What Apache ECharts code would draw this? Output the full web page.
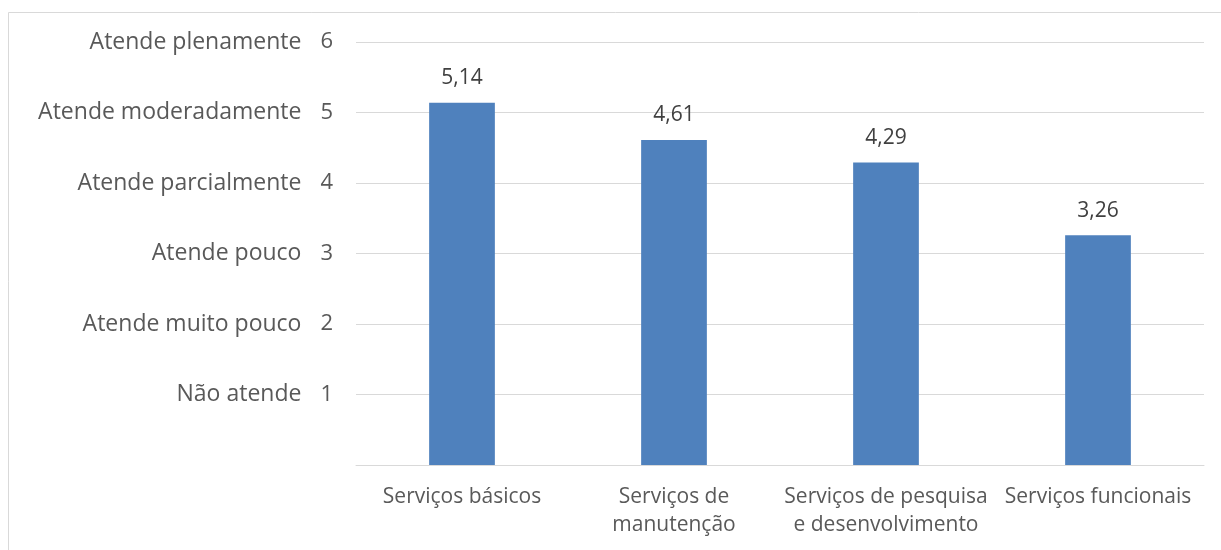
<!DOCTYPE html>
<html>
<head>
<meta charset="utf-8">
<script src="https://cdn.jsdelivr.net/npm/echarts@6/dist/echarts.min.js"></script>
<style>
  html, body { margin: 0; padding: 0; background: #fff; }
  #chart { width: 1221px; height: 550px; }
</style>
</head>
<body>
<div id="chart"></div>
<script>
// Service categories and their mean ratings (scale 1–6)
const categories = [
  'Serviços básicos',
  'Serviços de\nmanutenção',
  'Serviços de pesquisa\ne desenvolvimento',
  'Serviços funcionais'
];
const ratings = [5.14, 4.61, 4.29, 3.26];

// Rating scale names shown beside each tick value
const levelNames = [
  '',
  'Não atende',
  'Atende muito pouco',
  'Atende pouco',
  'Atende parcialmente',
  'Atende moderadamente',
  'Atende plenamente'
];

const FONT = '"Open Sans", sans-serif';
const chart = echarts.init(document.getElementById('chart'));

chart.setOption({
  animation: false,
  backgroundColor: '#ffffff',
  graphic: [{
    type: 'rect',
    silent: true,
    shape: { x: 8.5, y: 12.5, width: 1400, height: 700 },
    style: { fill: 'none', stroke: '#d9d9d9', lineWidth: 1 }
  }],
  grid: { left: 356, right: 17, top: 42, bottom: 85, containLabel: false },
  xAxis: {
    type: 'category',
    data: categories,
    axisLine: { lineStyle: { color: '#d9d9d9', width: 1 } },
    axisTick: { show: false },
    axisLabel: {
      interval: 0,
      margin: 18,
      color: '#595959',
      fontFamily: FONT,
      fontSize: 21,
      lineHeight: 28
    }
  },
  yAxis: {
    type: 'value',
    min: 0,
    max: 6,
    interval: 1,
    axisLine: { show: false },
    axisTick: { show: false },
    splitLine: { lineStyle: { color: '#d9d9d9', width: 1 } },
    axisLabel: {
      margin: 23,
      color: '#595959',
      fontFamily: FONT,
      fontSize: 21,
      formatter: v => v === 0 ? '' : `{n|${levelNames[v]}}{v|${v}}`,
      rich: {
        n: { color: '#595959', fontFamily: FONT, fontSize: 23 },
        v: { color: '#595959', fontFamily: FONT, fontSize: 22, padding: [0, 0, 0, 19] }
      }
    }
  },
  series: [{
    type: 'bar',
    data: ratings,
    barWidth: '31%',
    itemStyle: { color: '#4f81bd' },
    label: {
      show: true,
      position: 'top',
      distance: 14,
      color: '#404040',
      fontFamily: FONT,
      fontSize: 21,
      formatter: p => p.value.toFixed(2).replace('.', ',')
    }
  }]
});
</script>
</body>
</html>
